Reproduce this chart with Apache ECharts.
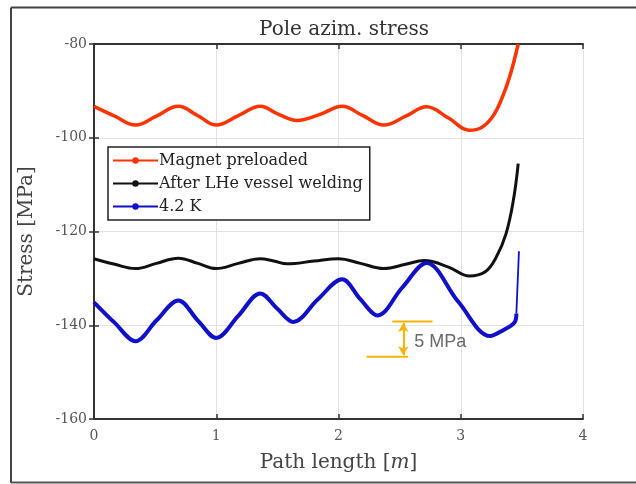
<!DOCTYPE html>
<html>
<head>
<meta charset="utf-8">
<script src="https://cdn.jsdelivr.net/npm/echarts@6/dist/echarts.min.js"></script>
<style>html,body{margin:0;padding:0;background:#fff}#c{width:636px;height:484px}</style>
</head>
<body>
<div id="c"></div>
<script>
// ---- data ----
const xTicks = [0, 1, 2, 3, 4];
const yTicks = [-160, -140, -120, -100, -80];

const redX = [0, 0.17, 0.34, 0.51, 0.69, 0.85, 1.0, 1.18, 1.36, 1.51, 1.66, 1.85, 2.03, 2.2, 2.37, 2.55, 2.72, 2.9, 3.07, 3.17, 3.26, 3.33, 3.40, 3.47];
const redY = [-93.3, -95.4, -97.3, -95.4, -93.3, -95.3, -97.3, -95.3, -93.3, -95.0, -96.3, -95.0, -93.3, -95.3, -97.3, -95.4, -93.4, -95.8, -98.4, -97.8, -95.5, -92.0, -87.0, -80.0];

const blackX = [0, 0.17, 0.34, 0.51, 0.69, 0.85, 1.0, 1.18, 1.36, 1.47, 1.58, 1.8, 2.0, 2.18, 2.37, 2.55, 2.7, 2.9, 3.07, 3.2, 3.29, 3.37, 3.43, 3.47];
const blackY = [-125.8, -127.0, -127.9, -126.8, -125.7, -126.8, -127.9, -126.8, -125.8, -126.3, -126.9, -126.3, -125.8, -126.8, -127.9, -127.0, -126.2, -127.6, -129.5, -128.6, -125.5, -120.5, -113.4, -105.5];

const blueX = [0, 0.17, 0.34, 0.51, 0.69, 0.85, 1.0, 1.18, 1.36, 1.5, 1.63, 1.83, 2.03, 2.18, 2.32, 2.52, 2.72, 2.98, 3.24, 3.35, 3.44, 3.455];
const blueY = [-135.1, -139.5, -143.4, -139.0, -134.7, -139.0, -142.7, -138.0, -133.2, -136.5, -139.3, -134.5, -130.2, -134.5, -137.9, -132.0, -126.7, -135.0, -142.3, -141.0, -139.4, -137.5];
const blueEndX = [3.455, 3.476];
const blueEndY = [-137.5, -124.2];

// annotation "5 MPa"
const annUpperX = [2.44, 2.77];
const annUpperY = [-139.2, -139.2];
const annLowerX = [2.23, 2.57];
const annLowerY = [-146.7, -146.7];
const annArrowX = 2.53;
const annText = '5 MPa';
const annTextPos = [2.62, -143.5];

const seriesNames = ['Magnet preloaded', 'After LHe vessel welding', '4.2 K'];
const titleText = 'Pole azim. stress';

function pairs(xs, ys) { return xs.map((x, i) => [x, ys[i]]); }

const serif = 'DejaVu Serif';
const chart = echarts.init(document.getElementById('c'), null, {renderer: 'canvas'});

const axisCommon = {
  type: 'value',
  axisLine: {show: true, lineStyle: {color: '#333', width: 2}},
  axisTick: {show: true, inside: true, length: 5, lineStyle: {color: '#333', width: 1.5}},
  splitLine: {show: false}
};

chart.setOption({
  animation: false,
  backgroundColor: '#fff',
  title: {
    text: titleText, left: 339, textAlign: 'center', top: 15,
    textStyle: {fontFamily: serif, fontSize: 20, fontWeight: 'normal', color: '#333'}
  },
  grid: {left: 94, right: 53, top: 44, bottom: 65},
  legend: {
    data: seriesNames,
    orient: 'vertical', left: 108, top: 147,
    backgroundColor: '#fff', borderColor: '#222', borderWidth: 1.5,
    padding: [5, 7, 5, 4], itemGap: 6, itemWidth: 45, itemHeight: 8,
    textStyle: {fontFamily: serif, fontSize: 16, lineHeight: 17, color: '#222', padding: [0, 0, 0, -4]}
  },
  xAxis: [
    Object.assign({}, axisCommon, {
      min: 0, max: 4, interval: 1, position: 'bottom',
      splitLine: {show: true, lineStyle: {color: '#e2e2e2', width: 1}},
      axisLabel: {fontFamily: serif, fontSize: 14, color: '#555', margin: 10},
      name: 'Path length [{i|m}]', nameLocation: 'middle', nameGap: 34,
      nameTextStyle: {fontFamily: serif, fontSize: 20, color: '#444',
        rich: {i: {fontFamily: serif, fontStyle: 'italic', fontSize: 20, color: '#444'}}}
    }),
    Object.assign({}, axisCommon, {
      min: 0, max: 4, interval: 1, position: 'top', axisLabel: {show: false}
    })
  ],
  yAxis: [
    Object.assign({}, axisCommon, {
      min: -160, max: -80, interval: 20, position: 'left',
      splitLine: {show: true, lineStyle: {color: '#e2e2e2', width: 1}},
      axisLabel: {fontFamily: serif, fontSize: 14, color: '#555', margin: 7},
      name: 'Stress [MPa]', nameLocation: 'middle', nameGap: 57, nameRotate: 90,
      nameTextStyle: {fontFamily: serif, fontSize: 20, color: '#444'}
    }),
    Object.assign({}, axisCommon, {
      min: -160, max: -80, interval: 20, position: 'right', axisLabel: {show: false}
    })
  ],
  series: [
    {
      name: seriesNames[0], type: 'line', data: pairs(redX, redY),
      smooth: 0.4, symbol: 'circle', symbolSize: 4, showSymbol: false,
      lineStyle: {color: '#ff3300', width: 3.5}, itemStyle: {color: '#ff3300'}, z: 3
    },
    {
      name: seriesNames[1], type: 'line', data: pairs(blackX, blackY),
      smooth: 0.4, symbol: 'circle', symbolSize: 4, showSymbol: false,
      lineStyle: {color: '#111', width: 3}, itemStyle: {color: '#111'}, z: 3
    },
    {
      name: seriesNames[2], type: 'line', data: pairs(blueX, blueY),
      smooth: 0.35, symbol: 'circle', symbolSize: 4, showSymbol: false,
      lineStyle: {color: '#1010c8', width: 4}, itemStyle: {color: '#1010c8'}, z: 3
    },
    {
      name: 'blueEnd', type: 'line', data: pairs(blueEndX, blueEndY),
      symbol: 'none', lineStyle: {color: '#1010c8', width: 1.8}, z: 3
    },
    {
      name: 'annUpper', type: 'line', data: pairs(annUpperX, annUpperY),
      symbol: 'none', lineStyle: {color: '#f7b500', width: 2}, z: 4
    },
    {
      name: 'annLower', type: 'line', data: pairs(annLowerX, annLowerY),
      symbol: 'none', lineStyle: {color: '#f7b500', width: 2}, z: 4,
      markLine: {
        silent: true, symbol: ['arrow', 'arrow'], symbolSize: [8, 9],
        lineStyle: {color: '#f7b500', width: 2, type: 'solid'}, label: {show: false},
        data: [[{coord: [annArrowX, annUpperY[0] - 0.3]}, {coord: [annArrowX, annLowerY[0] + 0.3]}]]
      }
    },
    {
      name: 'annText', type: 'scatter', data: [annTextPos], symbolSize: 0, z: 5,
      label: {show: true, position: 'right', distance: 0, formatter: annText,
        fontFamily: 'Liberation Sans', fontSize: 18, color: '#444'}
    }
  ],
  graphic: [
    {type: 'line', shape: {x1: 11, y1: 7.5, x2: 640, y2: 7.5}, style: {stroke: '#444', lineWidth: 2}},
    {type: 'line', shape: {x1: 11, y1: 7.5, x2: 11, y2: 483}, style: {stroke: '#444', lineWidth: 2}},
    {type: 'line', shape: {x1: 11, y1: 482.5, x2: 640, y2: 482.5}, style: {stroke: '#555', lineWidth: 2}}
  ]
});
</script>
</body>
</html>
